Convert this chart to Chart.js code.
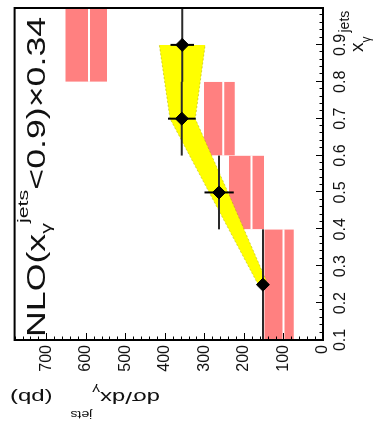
<!DOCTYPE html>
<html>
<head>
<meta charset="utf-8">
<script src="https://cdn.jsdelivr.net/npm/chart.js@4.4.0/dist/chart.umd.min.js"></script>
<style>
  html, body { margin: 0; padding: 0; background: #fff; overflow: hidden; }
  /* the figure is drawn upright and then turned 90 degrees to the left */
  #caja { position: absolute; left: 0; top: 0; width: 427px; height: 377px;
          transform-origin: 0 0; transform: translateY(427px) rotate(-90deg); }
</style>
</head>
<body>
<div id="caja"><canvas id="grafico" width="427" height="377"></canvas></div>
<script>
// bins de x_gamma^jets
var binBajo = [0.1, 0.4, 0.6, 0.8];
var binAlto = [0.4, 0.6, 0.8, 1.0];

// datos medidos (pb)
var xCentro = [0.25, 0.5, 0.7, 0.9];
var sigma = [152, 263, 357, 356];
var errStat = [10, 37, 35, 30];

// banda NLO
var nloX = [0.25, 0.5, 0.7, 0.9];
var nloBajo = [139, 240, 323, 298];
var nloAlto = [164, 288, 387, 414];

// cajas rojas
var cajaBajo = [74, 149, 223, 546];
var cajaMedio = [100, 181, 252, 592];
var cajaAlto = [148, 238, 301, 651];

// ticks
var ticksX = [0.1, 0.2, 0.3, 0.4, 0.5, 0.6, 0.7, 0.8, 0.9, 1.0];
var etiquetasX = ['0.1', '0.2', '0.3', '0.4', '0.5', '0.6', '0.7', '0.8', '0.9', ''];
var ticksY = [0, 100, 200, 300, 400, 500, 600, 700];
var etiquetasY = ['0', '100', '200', '300', '400', '500', '600', '700'];

var fuente = "'Liberation Sans', Arial, sans-serif";
var rosa = 'rgb(255,128,128)';

var datasets = [];

// cajas
for (var i = 0; i < binBajo.length; i++) {
  datasets.push({
    type: 'line',
    data: [{x: binBajo[i], y: cajaAlto[i]}, {x: binAlto[i], y: cajaAlto[i]}],
    fill: {value: cajaBajo[i]},
    backgroundColor: rosa,
    borderWidth: 0,
    pointRadius: 0,
    order: 6
  });
}
// linea blanca dentro de cada caja
var lineasBlancas = [];
for (var i = 0; i < binBajo.length; i++) {
  lineasBlancas.push({x: binBajo[i], y: cajaMedio[i]}, {x: binAlto[i], y: cajaMedio[i]}, {x: binAlto[i], y: null});
}
datasets.push({
  type: 'line', data: lineasBlancas, borderColor: '#fff', borderWidth: 2,
  pointRadius: 0, spanGaps: false, fill: false, order: 5
});

// banda NLO
datasets.push({
  type: 'line',
  data: nloX.map(function(x, i) { return {x: x, y: nloAlto[i]}; }),
  borderColor: 'rgba(170,170,0,0.5)', borderWidth: 1, borderDash: [2, 2],
  pointRadius: 0, fill: false, order: 4
});
datasets.push({
  type: 'line',
  data: nloX.map(function(x, i) { return {x: x, y: nloBajo[i]}; }),
  borderColor: 'rgba(170,170,0,0.5)', borderWidth: 1, borderDash: [2, 2],
  backgroundColor: 'rgb(255,255,0)',
  pointRadius: 0, fill: '-1', order: 4
});

// barras de error: ancho del bin y error estadistico
var errBin = [];
var errVert = [];
for (var i = 0; i < xCentro.length; i++) {
  errBin.push({x: binBajo[i], y: sigma[i]}, {x: binAlto[i], y: sigma[i]}, {x: binAlto[i], y: null});
  errVert.push({x: xCentro[i], y: sigma[i] - errStat[i]}, {x: xCentro[i], y: sigma[i] + errStat[i]}, {x: xCentro[i] + 0.001, y: null});
}
datasets.push({
  type: 'line', data: errBin, borderColor: '#2a2a2a', borderWidth: 2,
  pointRadius: 0, spanGaps: false, fill: false, order: 3
});
datasets.push({
  type: 'line', data: errVert, borderColor: '#000', borderWidth: 2,
  pointRadius: 0, spanGaps: false, fill: false, order: 2
});

// puntos
datasets.push({
  type: 'scatter',
  data: xCentro.map(function(x, i) { return {x: x, y: sigma[i]}; }),
  pointStyle: 'rectRot', pointRadius: 6.5,
  backgroundColor: '#000', borderColor: '#000', order: 1
});

// texto con sub/superindices, partes en secuencia
function anchoTexto(ctx, partes) {
  var w = 0;
  partes.forEach(function(p) {
    ctx.font = p.tam + 'px ' + fuente;
    w += ctx.measureText(p.t).width + (p.sep || 0);
  });
  return w;
}
function pintaTexto(ctx, partes) {
  var x = 0;
  partes.forEach(function(p) {
    ctx.font = p.tam + 'px ' + fuente;
    x += (p.sep || 0);
    ctx.fillText(p.t, x, p.dy || 0);
    x += ctx.measureText(p.t).width;
  });
}

var tituloNLO = [
  {t: 'NLO(x', tam: 25},
  {t: 'γ', tam: 15, dy: 6},
  {t: 'jets', tam: 15, dy: -17},
  {t: '<0.9)×0.34', tam: 25}
];
var tituloY = [
  {t: 'dσ/dx', tam: 17},
  {t: 'γ', tam: 11, dy: 6},
  {t: 'jets', tam: 10, dy: -19},
  {t: ' (pb)', tam: 17, sep: 8}
];
var tituloX = [
  {t: 'x', tam: 19},
  {t: 'γ', tam: 12, dy: 7},
  {t: 'jets', tam: 14, dy: -14, sep: 4}
];

var extras = {
  id: 'extras',
  beforeDraw: function(chart) {
    var ctx = chart.ctx;
    ctx.save();
    ctx.fillStyle = '#fff';
    ctx.fillRect(0, 0, chart.width, chart.height);
    ctx.restore();
  },
  afterDraw: function(chart) {
    var ctx = chart.ctx;
    var a = chart.chartArea;
    var sx = chart.scales.x, sy = chart.scales.y;
    ctx.save();
    ctx.strokeStyle = '#000';
    // ticks hacia dentro
    ctx.lineWidth = 1;
    ctx.beginPath();
    for (var v = 0; v <= 780; v += 20) {
      var py = Math.round(sy.getPixelForValue(v)) + 0.5;
      var largo = (v % 100 === 0) ? 7 : 3.5;
      ctx.moveTo(a.left, py); ctx.lineTo(a.left + largo, py);
    }
    for (var k = 5; k <= 50; k++) {
      var px = Math.round(sx.getPixelForValue(k * 0.02)) + 0.5;
      var largoX = (k % 5 === 0) ? 7 : 3.5;
      ctx.moveTo(px, a.bottom); ctx.lineTo(px, a.bottom - largoX);
    }
    ctx.stroke();
    // marco
    ctx.lineWidth = 2;
    ctx.strokeRect(a.left, a.top, a.right - a.left, a.bottom - a.top);

    ctx.fillStyle = '#111';
    ctx.textBaseline = 'alphabetic';
    ctx.textAlign = 'left';

    // titulo NLO dentro del grafico, estirado a lo ancho
    var x0 = sx.getPixelForValue(0.108), x1 = sx.getPixelForValue(0.976);
    var w = anchoTexto(ctx, tituloNLO);
    ctx.save();
    ctx.translate(x0, sy.getPixelForValue(702));
    ctx.scale((x1 - x0) / w, 1);
    pintaTexto(ctx, tituloNLO);
    ctx.restore();

    // titulo eje y, vertical y pegado arriba
    var wy = anchoTexto(ctx, tituloY);
    ctx.save();
    ctx.translate(35, 160);
    ctx.rotate(-Math.PI / 2);
    ctx.scale(150 / wy, 1);
    pintaTexto(ctx, tituloY);
    ctx.restore();

    // titulo eje x, al final del eje
    ctx.save();
    ctx.translate(a.right - 44, a.bottom + 40);
    pintaTexto(ctx, tituloX);
    ctx.restore();
    ctx.restore();
  }
};

var grafico = new Chart(document.getElementById('grafico').getContext('2d'), {
  type: 'scatter',
  data: {datasets: datasets},
  options: {
    responsive: false,
    animation: false,
    events: [],
    devicePixelRatio: 1,
    layout: {padding: {top: 8, right: 1, left: 0, bottom: 0}},
    plugins: {legend: {display: false}, tooltip: {enabled: false}},
    scales: {
      x: {
        type: 'linear', min: 0.1, max: 1.0,
        grid: {display: false, drawTicks: false},
        border: {display: false},
        afterBuildTicks: function(s) { s.ticks = ticksX.map(function(v) { return {value: v}; }); },
        afterFit: function(s) { s.height = 54; },
        ticks: {
          padding: 8, color: '#111', maxRotation: 0, autoSkip: false,
          font: {family: fuente, size: 16},
          callback: function(v) { return etiquetasX[ticksX.indexOf(v)]; }
        }
      },
      y: {
        type: 'linear', min: 0, max: 780,
        grid: {display: false, drawTicks: false},
        border: {display: false},
        afterBuildTicks: function(s) { s.ticks = ticksY.map(function(v) { return {value: v}; }); },
        afterFit: function(s) { s.width = 87; },
        ticks: {
          padding: 5, color: '#111', autoSkip: false,
          font: {family: fuente, size: 16},
          callback: function(v) { return etiquetasY[ticksY.indexOf(v)]; }
        }
      }
    }
  },
  plugins: [extras]
});
</script>
</body>
</html>
